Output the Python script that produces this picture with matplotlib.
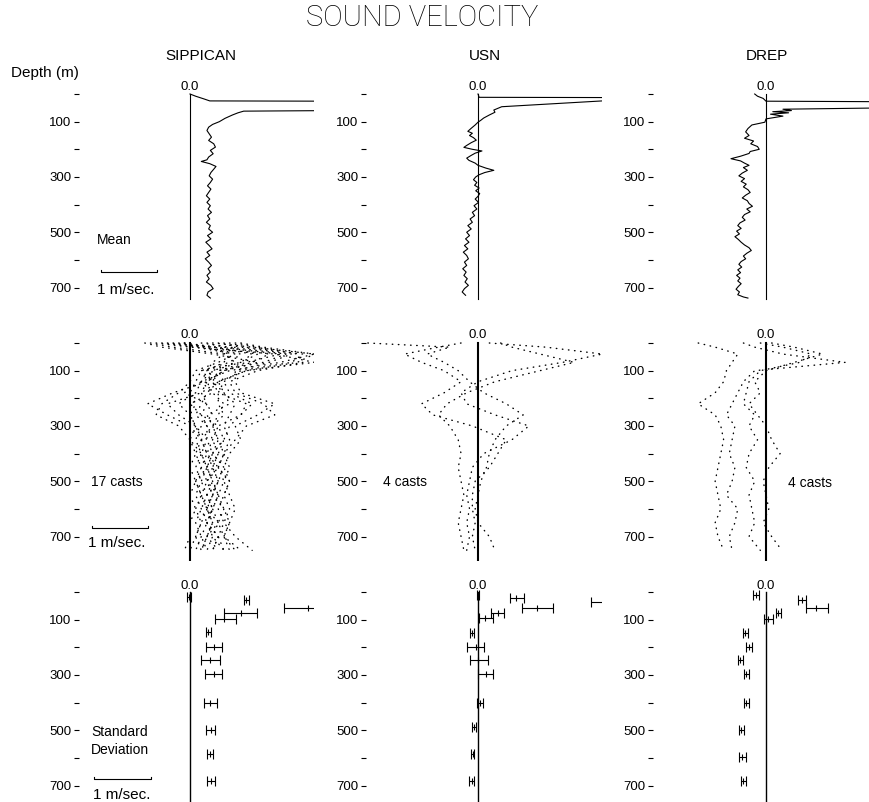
import matplotlib
matplotlib.use("Agg")
import matplotlib.pyplot as plt
import numpy as np

# Figure size in pixels (dpi 100)
W, H = 869, 802

plt.rcParams["font.family"] = ["Liberation Sans", "DejaVu Sans"]

SOURCES = ["SIPPICAN", "USN", "DREP"]
CAST_LABELS = ["17 casts", "4 casts", "4 casts"]
MAJOR_DEPTHS = [100, 300, 500, 700]
MINOR_DEPTHS = [0, 200, 400, 600]

# Mean sound velocity difference profiles: (depth m, m/sec)
SIPPICAN_MEAN = [(0, 0.0), (8, 0.1), (18, 0.25), (25, 0.35), (26, 2.5), (60, 2.5), (62, 0.95),
                 (68, 0.85), (76, 0.75), (88, 0.62), (100, 0.52), (110, 0.4), (120, 0.33),
                 (132, 0.3), (144, 0.34), (156, 0.38), (168, 0.33), (180, 0.42), (192, 0.45),
                 (204, 0.36), (216, 0.41), (228, 0.33), (238, 0.3), (244, 0.2), (252, 0.35),
                 (262, 0.46), (272, 0.42), (284, 0.37), (296, 0.34), (308, 0.4), (320, 0.36),
                 (332, 0.31), (344, 0.37), (356, 0.33), (368, 0.29), (380, 0.35), (392, 0.3),
                 (404, 0.36), (416, 0.32), (428, 0.38), (440, 0.31), (452, 0.35), (464, 0.29),
                 (476, 0.36), (488, 0.33), (500, 0.4), (512, 0.31), (524, 0.37), (536, 0.28),
                 (548, 0.34), (560, 0.39), (572, 0.3), (584, 0.35), (596, 0.27), (608, 0.33),
                 (620, 0.38), (632, 0.32), (644, 0.36), (656, 0.3), (668, 0.34), (680, 0.29),
                 (692, 0.37), (704, 0.41), (716, 0.32), (728, 0.3), (738, 0.36)]
USN_MEAN = [(0, 0.0), (12, 0.02), (13, 2.6), (22, 2.6), (25, 2.2), (46, 0.42), (52, 0.35),
            (58, 0.28), (66, 0.3), (76, 0.2), (87, 0.1), (95, 0.05), (102, 0.0), (112, -0.05),
            (124, -0.12), (135, -0.18), (142, -0.1), (150, -0.15), (158, -0.08), (167, -0.03),
            (176, -0.12), (186, -0.2), (193, -0.25), (200, -0.1), (206, 0.07), (214, -0.05),
            (222, -0.12), (232, -0.2), (240, -0.16), (250, -0.05), (258, 0.0), (268, 0.14),
            (276, 0.28), (284, 0.12), (292, 0.02), (300, -0.04), (310, -0.08), (320, -0.02),
            (330, -0.06), (340, 0.02), (350, -0.04), (360, 0.03), (370, 0.0), (380, -0.05),
            (392, 0.01), (404, -0.07), (416, -0.02), (428, -0.1), (440, -0.06), (452, -0.14),
            (464, -0.1), (476, -0.18), (488, -0.12), (500, -0.2), (512, -0.15), (524, -0.22),
            (536, -0.16), (548, -0.24), (560, -0.18), (572, -0.26), (584, -0.2), (596, -0.17),
            (608, -0.24), (620, -0.2), (632, -0.27), (644, -0.21), (656, -0.25), (668, -0.19),
            (680, -0.23), (692, -0.17), (704, -0.24), (716, -0.28), (728, -0.22)]
DREP_MEAN = [(0, -0.2), (8, -0.15), (16, -0.05), (26, 0.0), (28, 2.2), (50, 2.2), (55, 0.3),
             (60, 0.45), (64, 0.12), (68, 0.4), (73, 0.08), (80, 0.3), (90, 0.0), (102, -0.02),
             (112, -0.25), (125, -0.32), (137, -0.36), (150, -0.3), (160, -0.38), (170, -0.22),
             (180, -0.27), (190, -0.15), (200, -0.12), (208, -0.28), (215, -0.3), (225, -0.45),
             (234, -0.62), (242, -0.45), (250, -0.38), (258, -0.3), (266, -0.4), (276, -0.33),
             (286, -0.42), (296, -0.48), (306, -0.38), (316, -0.44), (326, -0.35), (336, -0.4),
             (346, -0.32), (356, -0.28), (366, -0.36), (376, -0.42), (386, -0.33), (396, -0.3),
             (406, -0.24), (416, -0.34), (426, -0.28), (436, -0.38), (446, -0.42), (456, -0.37),
             (466, -0.46), (476, -0.5), (486, -0.44), (496, -0.52), (506, -0.47), (516, -0.55),
             (526, -0.49), (536, -0.44), (546, -0.38), (556, -0.3), (566, -0.26), (576, -0.34),
             (586, -0.4), (596, -0.36), (606, -0.44), (616, -0.48), (626, -0.43), (636, -0.5),
             (646, -0.45), (656, -0.52), (666, -0.46), (676, -0.5), (686, -0.44), (696, -0.49),
             (706, -0.53), (716, -0.47), (726, -0.5), (734, -0.4), (738, -0.32)]

# Individual casts (m/sec) at common depth nodes
CAST_DEPTHS = [0, 15, 40, 70, 100, 140, 180, 220, 260, 300, 350, 400, 450, 500, 550, 600, 650, 700, 750]
SIPPICAN_CASTS = [
    [-0.8, -0.5, 0.4, 1.2, 0.6, 0.3, -0.3, -0.75, -0.4, 0.0, 0.2, 0.3, 0.4, 0.3, 0.5, 0.4, 0.3, 0.5, 0.4],
    [-0.6, 0.0, 1.5, 2.2, 1.0, 0.5, 0.2, -0.4, -0.2, 0.1, 0.3, 0.2, 0.3, 0.1, 0.2, 0.3, 0.2, 0.1, 0.2],
    [0.5, 0.9, 1.8, 1.4, 0.8, 0.8, 0.9, 1.5, 1.2, 0.8, 0.9, 0.7, 0.6, 0.7, 0.6, 0.7, 0.6, 0.8, 1.1],
    [0.6, 0.8, 0.6, 0.4, 0.3, 0.2, 0.4, 0.6, 0.5, 0.4, 0.5, 0.4, 0.6, 0.5, 0.4, 0.6, 0.5, 0.4, 0.3],
    [-0.3, 0.2, 0.9, 0.7, 0.2, 0.1, 0.0, 0.1, 0.0, 0.1, 0.2, 0.1, 0.2, 0.1, 0.2, 0.1, 0.2, 0.1, 0.0],
    [0.7, 1.0, 2.0, 1.8, 0.9, 0.6, 0.5, 1.0, 0.9, 0.5, 0.6, 0.5, 0.4, 0.5, 0.3, 0.4, 0.3, 0.4, 0.6],
    [-0.4, 0.4, 1.2, 0.9, 0.4, 0.3, 0.2, 0.3, 0.2, 0.3, 0.4, 0.5, 0.4, 0.5, 0.4, 0.3, 0.4, 0.3, 0.2],
    [-0.1, 0.5, 1.6, 1.0, 0.5, 0.4, 0.6, 0.8, 0.7, 0.6, 0.7, 0.6, 0.5, 0.6, 0.5, 0.6, 0.7, 0.6, 0.9],
    [0.4, 1.1, 2.2, 1.6, 0.7, 0.2, -0.1, 0.3, 0.4, 0.2, 0.1, 0.2, 0.1, 0.2, 0.3, 0.2, 0.1, 0.2, 0.3],
    [-0.5, 0.1, 0.8, 0.5, 0.1, 0.0, -0.2, -0.5, -0.6, -0.2, 0.0, 0.1, 0.0, 0.1, 0.0, 0.1, 0.0, 0.0, -0.1],
    [0.8, 1.2, 1.9, 2.0, 1.2, 0.7, 0.8, 1.3, 1.5, 1.0, 0.8, 0.6, 0.7, 0.6, 0.7, 0.8, 0.7, 0.6, 0.8],
    [-0.2, 0.3, 0.7, 0.6, 0.3, 0.5, 0.3, 0.2, 0.1, 0.3, 0.3, 0.4, 0.3, 0.4, 0.3, 0.4, 0.3, 0.5, 0.4],
    [0.3, 0.6, 1.4, 1.1, 0.6, 0.3, 0.4, 0.0, 0.2, 0.5, 0.4, 0.3, 0.5, 0.3, 0.4, 0.3, 0.5, 0.3, 0.5],
    [-0.7, -0.3, 0.6, 0.8, 0.4, 0.2, 0.1, -0.2, 0.0, 0.1, 0.0, 0.2, 0.3, 0.2, 0.1, 0.2, 0.3, 0.2, 0.1],
    [0.2, 0.7, 1.7, 1.3, 0.5, 0.6, 0.7, 1.1, 0.9, 0.7, 0.6, 0.4, 0.3, 0.4, 0.5, 0.4, 0.5, 0.6, 0.7],
    [-0.1, 0.4, 1.1, 0.9, 0.2, 0.4, 0.5, 0.5, 0.6, 0.4, 0.2, 0.3, 0.2, 0.3, 0.2, 0.3, 0.4, 0.3, 0.2],
    [0.9, 1.3, 2.2, 1.9, 1.0, 0.5, 0.6, 0.7, 0.3, 0.4, 0.5, 0.6, 0.5, 0.7, 0.6, 0.5, 0.6, 0.5, 0.6],
]
USN_CASTS = [
    [-1.95, -0.5, -0.9, -0.6, -0.35, -0.15, 0.1, 0.5, 0.8, 0.5, 0.3, 0.2, 0.15, 0.05, 0.0, -0.05, 0.0, 0.2, 0.3],
    [0.4, 0.6, 1.1, 1.7, 1.1, 0.3, -0.2, -0.55, -0.7, -0.5, -0.35, -0.3, -0.35, -0.3, -0.25, -0.3, -0.35, -0.3, -0.25],
    [-0.3, -0.7, -1.3, -1.0, -0.6, -0.3, -0.6, -1.0, -0.8, -0.1, 0.5, 0.35, 0.2, -0.05, -0.1, -0.1, -0.05, -0.1, -0.05],
    [0.2, 1.2, 2.2, 1.5, 0.6, 0.0, -0.3, -0.2, 0.3, 0.9, 0.6, 0.1, -0.1, -0.15, -0.2, -0.15, -0.2, -0.15, -0.2],
]
DREP_CASTS = [
    [-1.2, -0.9, -0.5, -0.6, -0.7, -0.75, -0.9, -1.2, -0.9, -0.8, -0.75, -0.8, -0.85, -0.9, -0.85, -0.8, -0.9, -0.85, -0.75],
    [-0.4, -0.2, 0.3, 1.4, -0.2, -0.4, -0.5, -0.6, -0.7, -0.55, -0.6, -0.65, -0.55, -0.6, -0.7, -0.5, -0.55, -0.65, -0.6],
    [-0.1, 0.3, 0.8, 0.6, -0.1, -0.3, -0.35, -0.4, -0.2, -0.3, -0.15, -0.3, -0.35, -0.2, -0.3, -0.25, -0.2, -0.3, -0.1],
    [0.1, 0.5, 1.0, 0.5, 0.0, -0.2, -0.1, -0.3, -0.15, 0.0, 0.1, 0.25, 0.05, -0.05, 0.0, 0.05, -0.05, 0.1, 0.28],
]

# Standard deviation bars: (depth, centre, low, high)
SIPPICAN_SD = [(18, -0.02, -0.05, 0.01), (29, 1.0, 0.96, 1.04), (58, 2.09, 1.67, 2.4),
               (76, 0.9, 0.61, 1.19), (97, 0.61, 0.44, 0.82), (144, 0.32, 0.28, 0.37),
               (198, 0.42, 0.28, 0.56), (245, 0.35, 0.19, 0.53), (296, 0.42, 0.26, 0.56),
               (400, 0.35, 0.25, 0.47), (500, 0.37, 0.28, 0.44), (587, 0.35, 0.30, 0.40),
               (685, 0.37, 0.30, 0.44)]
USN_SD = [(10, 0.0, -0.02, 0.02), (22, 0.68, 0.56, 0.81), (36, 2.3, 2.0, 2.6),
          (58, 1.05, 0.77, 1.33), (76, 0.35, 0.23, 0.46), (94, 0.12, 0.02, 0.26),
          (148, -0.1, -0.14, -0.07), (198, -0.04, -0.19, 0.1), (245, 0.0, -0.14, 0.18),
          (296, 0.14, 0.0, 0.26), (400, 0.04, -0.02, 0.09), (490, -0.07, -0.1, -0.04),
          (587, -0.09, -0.12, -0.07), (685, -0.11, -0.16, -0.07)]
DREP_SD = [(11, -0.18, -0.23, -0.12), (29, 0.63, 0.56, 0.7), (58, 0.89, 0.7, 1.09),
           (76, 0.22, 0.18, 0.26), (97, 0.04, -0.04, 0.12), (148, -0.37, -0.4, -0.32),
           (198, -0.3, -0.35, -0.25), (245, -0.46, -0.49, -0.4), (296, -0.35, -0.39, -0.3),
           (400, -0.35, -0.39, -0.3), (500, -0.44, -0.47, -0.39), (595, -0.42, -0.47, -0.36),
           (685, -0.4, -0.45, -0.36)]

# Layout (pixels)
TICK_PX = [79, 366, 653]      # x of the depth tick marks per column
ZERO_PX = [190, 478, 766]     # x of the 0.0 line per column
ROW_Y0 = [94, 343, 592]       # y of depth 0 per row
PX_PER_MS = 56.5              # 1 m/sec
PX_PER_M = 0.2765             # 1 m depth
X_RIGHT = 2.2
D_TOP, D_BOT = -30, 790

# scale bar per row: depth of the bar, bar start x, label y, label x (pixels)
BAR_INFO = [(644, 101, 290, 97), (669, 92, 543, 88), (676, 94, 795, 93)]


def fx(x):
    return x / W


def fy(y):
    return 1 - y / H


def make_panel(fig, row, col):
    left = TICK_PX[col]
    width = ZERO_PX[col] - left + X_RIGHT * PX_PER_MS
    top = ROW_Y0[row] + D_TOP * PX_PER_M
    height = (D_BOT - D_TOP) * PX_PER_M
    ax = fig.add_axes([fx(left), fy(top + height), width / W, height / H])
    ax.set_xlim(-(ZERO_PX[col] - left) / PX_PER_MS, X_RIGHT)
    ax.set_ylim(D_BOT, D_TOP)
    ax.patch.set_alpha(0)
    for s in ax.spines.values():
        s.set_visible(False)
    ax.set_xticks([])
    ax.set_yticks(MAJOR_DEPTHS)
    ax.set_yticks(MINOR_DEPTHS, minor=True)
    ax.tick_params(axis="y", which="both", direction="out", length=3.5, width=0.8,
                   pad=2, labelsize=9.5)
    return ax


def scale_bar(ax, depth, x0):
    ax.plot([x0, x0, x0 + 1, x0 + 1], [depth - 6, depth, depth, depth - 6],
            color="k", lw=0.8, clip_on=False)


def main():
    fig = plt.figure(figsize=(W / 100, H / 100), dpi=100)
    fig.patch.set_facecolor("white")

    fig.text(fx(422), fy(18), "SOUND VELOCITY", ha="center", va="center",
             fontsize=21, family=["Roboto", "DejaVu Sans"], fontweight="light")
    for name, xc in zip(SOURCES, [201, 485, 767]):
        fig.text(fx(xc), fy(56), name, ha="center", va="center", fontsize=11)
    fig.text(fx(11), fy(73), "Depth (m)", ha="left", va="center", fontsize=11)

    means = [SIPPICAN_MEAN, USN_MEAN, DREP_MEAN]
    casts = [SIPPICAN_CASTS, USN_CASTS, DREP_CASTS]
    sds = [SIPPICAN_SD, USN_SD, DREP_SD]
    first_col = []

    for col in range(3):
        # Row 1: mean profile
        ax1 = make_panel(fig, 0, col)
        ax1.plot([0, 0], [0, 740], color="k", lw=0.8)
        d, v = np.array(means[col]).T
        ax1.plot(v, d, color="k", lw=0.8)
        ax1.text(0, -25, "0.0", ha="center", va="center", fontsize=9.5)

        # Row 2: individual casts, dotted
        ax2 = make_panel(fig, 1, col)
        ax2.plot([0, 0], [0, 793], color="k", lw=1.5)
        for cast in np.array(casts[col]):
            ax2.plot(cast, CAST_DEPTHS, color="k", lw=1.0,
                     linestyle=(0, (0.4, 4.0)), dash_capstyle="round")
        ax2.text(0, -28, "0.0", ha="center", va="center", fontsize=9.5)

        # Row 3: standard deviation bars
        ax3 = make_panel(fig, 2, col)
        ax3.plot([0, 0], [0, 760], color="k", lw=1.0)
        d, c, lo, hi = np.array(sds[col]).T
        ax3.errorbar(c, d, xerr=[c - lo, hi - c], fmt="none", ecolor="k",
                     elinewidth=0.8, capsize=3.5, capthick=0.8)
        ax3.plot(c, d, linestyle="none", marker="|", markersize=4, color="k", mew=0.8)
        ax3.text(0, -22, "0.0", ha="center", va="center", fontsize=9.5)

        if col == 0:
            first_col = [ax1, ax2, ax3]

    fig.text(fx(97), fy(240), "Mean", ha="left", va="center", fontsize=10)
    fig.text(fx(91), fy(482), CAST_LABELS[0], ha="left", va="center", fontsize=10)
    fig.text(fx(383), fy(482), CAST_LABELS[1], ha="left", va="center", fontsize=10)
    fig.text(fx(788), fy(483), CAST_LABELS[2], ha="left", va="center", fontsize=10)
    fig.text(fx(91), fy(732), "Standard", ha="left", va="center", fontsize=10)
    fig.text(fx(91), fy(750), "Deviation", ha="left", va="center", fontsize=10)

    # 1 m/sec scale bars on the SIPPICAN column
    for ax, (depth, x0_px, ty, tx) in zip(first_col, BAR_INFO):
        scale_bar(ax, depth, (x0_px - ZERO_PX[0]) / PX_PER_MS)
        fig.text(fx(tx), fy(ty), "1 m/sec.", ha="left", va="center", fontsize=11)

    fig.savefig("out.png", dpi=100, facecolor="white")


if __name__ == "__main__":
    main()
